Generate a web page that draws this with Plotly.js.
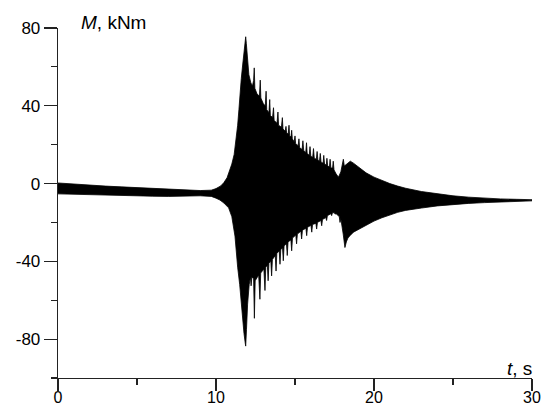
<!DOCTYPE html>
<html>
<head>
<meta charset="utf-8">
<script src="https://cdn.plot.ly/plotly-3.0.1.min.js"></script>
<style>html,body{margin:0;padding:0;background:#fff;} #chart{width:546px;height:409px;}</style>
</head>
<body>
<div id="chart"></div>
<script>
// Upper envelope of the bending moment signal (t in s, M in kNm)
var upperT = [0,1,2,3,4,5,6,7,8,9,9.7,10.0,10.3,10.5,10.7,10.85,11.0,11.15,11.27,11.37,11.45,11.52,11.6,11.7,11.78,11.85,11.88,11.92,11.97,12.02,12.08,12.2,12.3,12.38,12.42,12.46,12.6,12.75,12.8,12.84,13.0,13.12,13.17,13.21,13.35,13.4,13.44,13.58,13.64,13.68,13.86,13.92,13.96,14.14,14.2,14.24,14.38,14.43,14.47,14.57,14.62,14.66,14.75,14.79,14.83,14.95,15.0,15.04,15.2,15.25,15.29,15.45,15.5,15.55,15.68,15.73,15.77,15.9,15.95,16.0,16.12,16.17,16.22,16.35,16.4,16.45,16.55,16.6,16.65,16.78,16.82,16.87,16.98,17.02,17.07,17.18,17.22,17.27,17.38,17.42,17.47,17.6,17.75,17.9,18.0,18.06,18.12,18.25,18.4,18.5,18.7,19.0,19.5,20.0,20.5,21.0,21.5,22.0,23.0,24.0,25.0,26.0,27.0,28.0,29.0,30.0];
var upperM = [0.3,-0.3,-0.8,-1.3,-1.7,-2.1,-2.5,-2.9,-3.3,-3.6,-3.4,-2.6,-1.2,0.5,3,6,10,15,22,30,38,47,54,62,68,73,75.5,72,68,61,56,52,50,53,59.5,49,46,45,53.2,44,41,40,47.5,38,36.5,43.2,35,34,39,32.5,31,36.8,30,29,33.9,28,27,29.4,26,25.5,30,24.5,24,27.4,23,21.5,24.5,20.5,19.5,23,18.5,17.5,22,17,16,21,15.5,14.5,19,14,13.5,18,13,12.5,16.5,12,11.5,15.5,11,10.5,14.5,10,9.5,13,9,8.5,12.5,8,8,11.5,7,5,3.3,6,10,12.5,9,10,11,11.5,10.5,8.5,5.5,3.3,1.5,0,-1.3,-2.4,-4.1,-5.3,-6.3,-7,-7.5,-7.9,-8.1,-8.3];
// Lower envelope
var lowerT = [0,1,2,3,4,5,6,7,8,9,9.7,10.0,10.25,10.5,10.8,11.0,11.2,11.37,11.5,11.58,11.7,11.77,11.85,11.88,11.93,12.0,12.1,12.18,12.22,12.27,12.38,12.43,12.48,12.7,12.78,12.83,13.03,13.1,13.15,13.25,13.3,13.35,13.47,13.52,13.57,13.75,13.8,13.85,14.0,14.05,14.1,14.21,14.26,14.31,14.46,14.51,14.56,14.74,14.79,14.84,15.05,15.1,15.15,15.37,15.42,15.47,15.69,15.74,15.79,16.01,16.06,16.11,16.32,16.37,16.42,16.64,16.69,16.74,16.95,17.0,17.05,17.27,17.32,17.37,17.5,17.53,17.6,17.8,17.85,17.9,18.05,18.16,18.25,18.35,18.48,18.7,19.0,19.5,20.0,20.5,21.0,21.5,22.0,23.0,24.0,25.0,26.0,27.0,28.0,29.0,30.0];
var lowerM = [-5.3,-5.5,-5.7,-5.9,-6.1,-6.3,-6.5,-6.6,-6.5,-6.3,-6.6,-7.5,-8.5,-10,-12.5,-17,-27,-43,-52,-60,-70,-77,-82,-83.6,-75,-62,-52,-48,-52.6,-48,-49,-69.3,-50,-47,-59.5,-46,-44,-55,-43,-42,-50,-41,-40,-47.5,-39,-37,-45,-36,-34.5,-41.5,-34,-33,-39.7,-32,-31,-37,-30,-29,-34.6,-28,-26.5,-31,-26,-24.5,-28.5,-24,-23,-26.8,-22.5,-21.5,-25,-21,-20.5,-23.4,-20,-19,-21.7,-18.5,-17.5,-19,-16.5,-15.5,-16.5,-15,-15,-15.7,-15.5,-17,-20,-18,-26,-32.9,-30,-28,-26.8,-25,-23.3,-21.5,-19.3,-17.6,-16,-14.8,-13.8,-12.6,-11.5,-10.8,-10.2,-9.8,-9.5,-9.1,-8.9];

var xTickVals = [0,10,20,30];
var xTickText = ['0','10','20','30'];
var yTickVals = [-80,-40,0,40,80];
var yTickText = ['-80','-40','0','40','80'];

var polyX = upperT.concat(lowerT.slice().reverse());
var polyY = upperM.concat(lowerM.slice().reverse());

var trace = {
  x: polyX, y: polyY, type: 'scatter', mode: 'lines',
  fill: 'toself', fillcolor: '#000', line: {color: '#000', width: 0.8},
  hoverinfo: 'skip'
};

var font = {family: 'Liberation Sans, Arial, sans-serif', size: 17, color: '#000'};
var titleFont = {family: 'Liberation Sans, Arial, sans-serif', size: 19, color: '#000'};
var layout = {
  width: 546, height: 409,
  margin: {l: 58, r: 14, t: 28, b: 31},
  paper_bgcolor: '#fff', plot_bgcolor: '#fff',
  showlegend: false,
  font: font,
  xaxis: {
    range: [0, 30], showgrid: false, zeroline: false,
    showline: true, linecolor: '#222', linewidth: 1.3,
    tickmode: 'array', tickvals: xTickVals, ticktext: xTickText,
    ticks: 'outside', ticklen: 12, tickwidth: 1.2, tickcolor: '#222',
    ticklabelstandoff: -8,
    minor: {tickvals: [5, 15, 25], ticks: 'outside', ticklen: 6, tickwidth: 1.2, tickcolor: '#222', showgrid: false},
    tickfont: {family: 'Liberation Sans, Arial, sans-serif', size: 16, color: '#000'}, fixedrange: true
  },
  yaxis: {
    range: [-100, 80], showgrid: false, zeroline: false,
    showline: true, linecolor: '#222', linewidth: 1.3,
    tickmode: 'array', tickvals: yTickVals, ticktext: yTickText,
    ticks: 'outside', ticklen: 13, tickwidth: 1.2, tickcolor: '#222',
    minor: {tickvals: [-100, -60, -20, 20, 60], ticks: 'outside', ticklen: 6, tickwidth: 1.2, tickcolor: '#222', showgrid: false},
    tickfont: font, fixedrange: true
  },
  annotations: [
    {xref: 'paper', yref: 'paper', x: 0.044, y: 1.016, xanchor: 'left', yanchor: 'middle',
     text: '<i>M</i>, kNm', showarrow: false, font: titleFont},
    {xref: 'paper', yref: 'paper', x: 1.004, y: 0.028, xanchor: 'right', yanchor: 'middle',
     text: '<i>t</i>, s', showarrow: false, font: titleFont}
  ]
};

Plotly.newPlot('chart', [trace], layout, {displayModeBar: false, staticPlot: true});
</script>
</body>
</html>
